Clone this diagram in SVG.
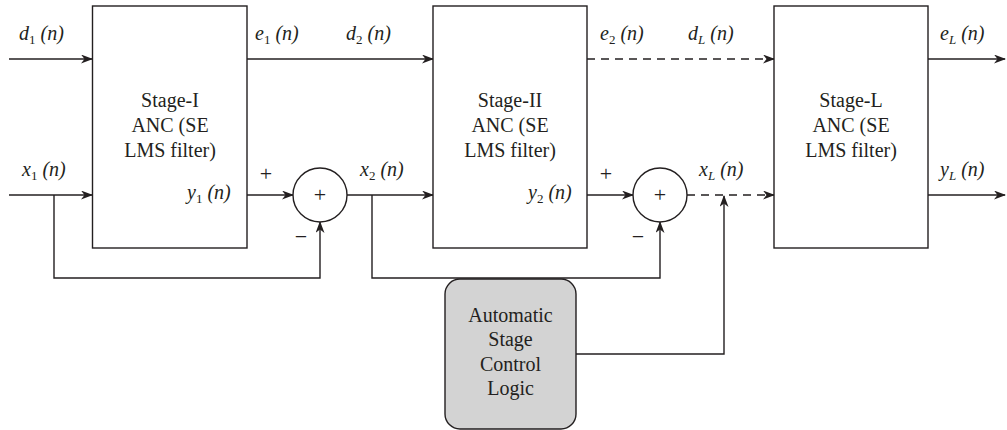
<svg xmlns="http://www.w3.org/2000/svg" width="1007" height="430" viewBox="0 0 1007 430" font-family="'Liberation Serif', 'Times New Roman', serif">
<defs>
<marker id="arr" markerWidth="12" markerHeight="10" refX="11" refY="4.5" orient="auto" markerUnits="userSpaceOnUse">
<path d="M0,0 L12,4.5 L0,9 L3.5,4.5 z" fill="#231f20"/>
</marker>
<style>
.ln{fill:none;stroke:#231f20;stroke-width:1.4}
.dash{stroke-dasharray:8,6}
.box{fill:#fff;stroke:#231f20;stroke-width:1.4}
text{font-family:'Liberation Serif','Times New Roman',serif;fill:#231f20}
.t{font-size:20px}
.lab{font-size:20px;font-style:italic}
.sub{font-size:13px;font-style:normal}
.subi{font-size:13px;font-style:italic}
.pm{font-size:22px}
.c{text-anchor:middle}
</style>
</defs>
<rect width="1007" height="430" fill="#fff"/>
<g id="connectors">
<path class="ln" d="M9,59 H92" marker-end="url(#arr)"/>
<path class="ln" d="M9,195 H92" marker-end="url(#arr)"/>
<path class="ln" d="M247,59 H433" marker-end="url(#arr)"/>
<path class="ln" d="M247,195 H293" marker-end="url(#arr)"/>
<path class="ln" d="M54,195 V278 H320 V222" marker-end="url(#arr)"/>
<path class="ln" d="M347,195 H433" marker-end="url(#arr)"/>
<path class="ln" d="M372,195 V278 H660 V222" marker-end="url(#arr)"/>
<path class="ln" d="M587,195 H633" marker-end="url(#arr)"/>
<path class="ln dash" d="M587,59 H774" marker-end="url(#arr)"/>
<path class="ln dash" d="M687,195 H774" marker-end="url(#arr)"/>
<path class="ln" d="M576,354 H724 V196" marker-end="url(#arr)"/>
<path class="ln" d="M928,59 H1005" marker-end="url(#arr)"/>
<path class="ln" d="M928,195 H1005" marker-end="url(#arr)"/>
</g>
<g id="stage1">
<rect class="box" x="92.5" y="6" width="154.5" height="242"/>
<text class="t c" x="170" y="107">Stage-I</text>
<text class="t c" x="170" y="132">ANC (SE</text>
<text class="t c" x="170" y="157">LMS filter)</text>
</g>
<g id="stage2">
<rect class="box" x="433" y="6" width="154" height="242"/>
<text class="t c" x="510" y="107">Stage-II</text>
<text class="t c" x="510" y="132">ANC (SE</text>
<text class="t c" x="510" y="157">LMS filter)</text>
</g>
<g id="stageL">
<rect class="box" x="774" y="6" width="154" height="242"/>
<text class="t c" x="851" y="107">Stage-L</text>
<text class="t c" x="851" y="132">ANC (SE</text>
<text class="t c" x="851" y="157">LMS filter)</text>
</g>
<g id="sum1">
<circle class="box" cx="320" cy="195" r="27"/>
<text class="pm c" x="320" y="202">+</text>
<text class="pm c" x="266" y="181">+</text>
<text class="pm c" x="301" y="244">−</text>
</g>
<g id="sum2">
<circle class="box" cx="660" cy="195" r="27"/>
<text class="pm c" x="660" y="202">+</text>
<text class="pm c" x="606" y="181">+</text>
<text class="pm c" x="638" y="244">−</text>
</g>
<g id="control">
<rect x="445" y="279" width="131" height="150" rx="15" ry="15" fill="#d3d3d3" stroke="#231f20" stroke-width="1.4"/>
<text class="t c" x="510.5" y="322">Automatic</text>
<text class="t c" x="510.5" y="346">Stage</text>
<text class="t c" x="510.5" y="371">Control</text>
<text class="t c" x="510.5" y="395">Logic</text>
</g>
<g id="labels">
<text class="lab" x="19" y="40">d<tspan class="sub" dy="4">1</tspan><tspan dy="-4"> (n)</tspan></text>
<text class="lab" x="255" y="40">e<tspan class="sub" dy="4">1</tspan><tspan dy="-4"> (n)</tspan></text>
<text class="lab" x="346" y="40">d<tspan class="sub" dy="4">2</tspan><tspan dy="-4"> (n)</tspan></text>
<text class="lab" x="600" y="40">e<tspan class="sub" dy="4">2</tspan><tspan dy="-4"> (n)</tspan></text>
<text class="lab" x="688" y="40">d<tspan class="subi" dy="4">L</tspan><tspan dy="-4"> (n)</tspan></text>
<text class="lab" x="940" y="40">e<tspan class="subi" dy="4">L</tspan><tspan dy="-4"> (n)</tspan></text>
<text class="lab" x="22" y="176">x<tspan class="sub" dy="4">1</tspan><tspan dy="-4"> (n)</tspan></text>
<text class="lab" x="187" y="199">y<tspan class="sub" dy="4">1</tspan><tspan dy="-4"> (n)</tspan></text>
<text class="lab" x="360" y="176">x<tspan class="sub" dy="4">2</tspan><tspan dy="-4"> (n)</tspan></text>
<text class="lab" x="528" y="199">y<tspan class="sub" dy="4">2</tspan><tspan dy="-4"> (n)</tspan></text>
<text class="lab" x="699" y="176">x<tspan class="subi" dy="4">L</tspan><tspan dy="-4"> (n)</tspan></text>
<text class="lab" x="940" y="176">y<tspan class="subi" dy="4">L</tspan><tspan dy="-4"> (n)</tspan></text>
</g>
</svg>
